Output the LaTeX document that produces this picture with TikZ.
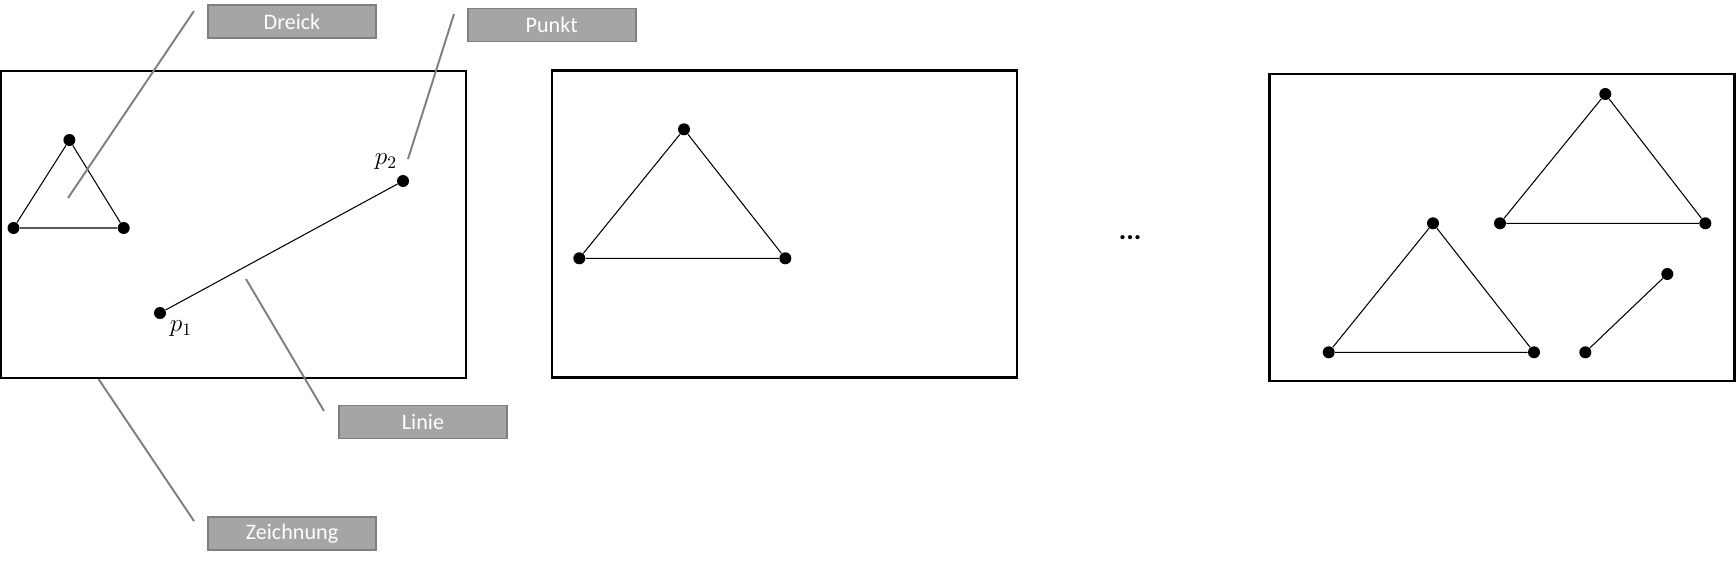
\documentclass[tikz,border=0pt]{standalone}
\usepackage{fontspec}
\setmainfont{Carlito}
\usetikzlibrary{positioning}
\definecolor{tagfill}{HTML}{A5A5A5}
\definecolor{tagline}{HTML}{7F7F7F}

\begin{document}
\begin{tikzpicture}[
      x=0.02cm, y=-0.02cm,
      every node/.style={font=\fontsize{12.6}{15}\selectfont},
      frame/.style={draw, line width=1.3pt, minimum width=9.3cm, minimum height=6.14cm, inner sep=0pt},
      tag/.style={draw=tagline, line width=1.1pt, fill=tagfill, text=white, minimum width=3.36cm, minimum height=0.66cm, inner sep=0pt},
      dot/.style={circle, fill=black, inner sep=0pt, minimum size=0.24cm},
      edge/.style={line width=0.6pt},
      leader/.style={draw=tagline, line width=1.1pt},
    ]
    \useasboundingbox (0,0) rectangle (1736,561);

    % drawing frames
    \node[frame] (f1) at (233.5,224.5) {};
    \node[frame] (f2) at (784.3,224) {};
    \node[frame] (f3) at (1502,227.5) {};
    \node (more) at (1130,238) {\fontsize{16}{18}\selectfont\bfseries ...};

    % frame 1
    \node[dot] (a1) at (69.4,140) {};
    \node[dot] (a2) at (13.5,228) {};
    \node[dot] (a3) at (123.7,228) {};
    \draw[edge] (a1) -- (a2) -- (a3) -- (a1);
    \node[dot] (p1) at (160,313) {};
    \node[dot] (p2) at (403,181) {};
    \draw[edge] (p1) -- (p2);
    \node (p1lab) at (181,329) {\fontsize{14}{16}\selectfont $p_1$};
    \node (p2lab) at (386,162) {\fontsize{14}{16}\selectfont $p_2$};

    % frame 2
    \node[dot] (b1) at (684,129.3) {};
    \node[dot] (b2) at (579.3,258.3) {};
    \node[dot] (b3) at (785.3,258.3) {};
    \draw[edge] (b1) -- (b2) -- (b3) -- (b1);

    % frame 3
    \node[dot] (c1) at (1605.3,94) {};
    \node[dot] (c2) at (1500,223.3) {};
    \node[dot] (c3) at (1705.3,223.3) {};
    \draw[edge] (c1) -- (c2) -- (c3) -- (c1);
    \node[dot] (d1) at (1433,223.3) {};
    \node[dot] (d2) at (1328.7,352.3) {};
    \node[dot] (d3) at (1534,352.3) {};
    \draw[edge] (d1) -- (d2) -- (d3) -- (d1);
    \node[dot] (e1) at (1585.3,352.3) {};
    \node[dot] (e2) at (1667.3,274) {};
    \draw[edge] (e1) -- (e2);

    % tags
    \node[tag] (dreick) at (292,21.8) {Dreick};
    \node[tag] (punkt) at (551.7,25) {Punkt};
    \node[tag] (linie) at (423,422) {Linie};
    \node[tag] (zeichnung) at (292,533.5) {Zeichnung};

    \coordinate (dreick-a) at (194,11);
    \coordinate (dreick-b) at (68,198);
    \coordinate (punkt-a) at (454,14);
    \coordinate (punkt-b) at (408,159);
    \coordinate (linie-a) at (246,279);
    \coordinate (linie-b) at (324,411);
    \coordinate (zeichnung-a) at (98.5,379);
    \coordinate (zeichnung-b) at (194,521);
    \draw[leader] (dreick-a) -- (dreick-b);
    \draw[leader] (punkt-a) -- (punkt-b);
    \draw[leader] (linie-a) -- (linie-b);
    \draw[leader] (zeichnung-a) -- (zeichnung-b);
  \end{tikzpicture}
\end{document}
